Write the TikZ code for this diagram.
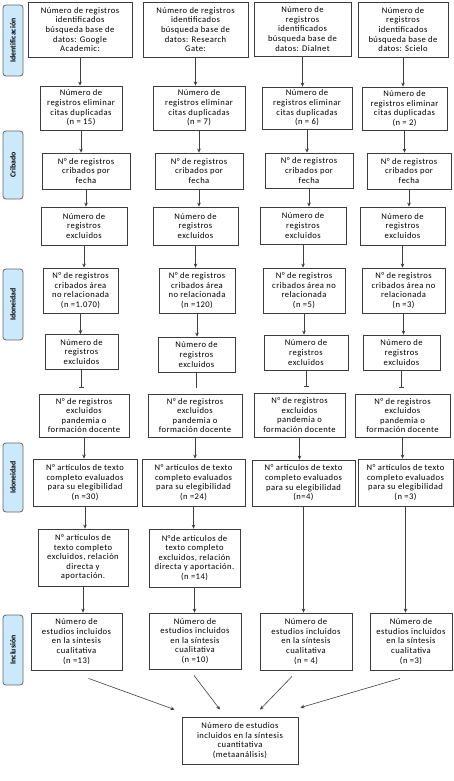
\documentclass[tikz,border=0pt]{standalone}
\usepackage{fontspec}
\setmainfont{Carlito}
\newfontfamily\cajafont{Carlito}[LetterSpace=5]
\newfontfamily\fasefont{Carlito}[Ligatures=NoCommon]
\usetikzlibrary{arrows.meta,calc}
\definecolor{FaseAzul}{HTML}{CBE9FB}
\definecolor{Borde}{HTML}{3C3C3C}

\begin{document}
\begin{tikzpicture}[x=1pt,y=-1pt,
  font=\cajafont\fontsize{8.6}{9.6}\selectfont, >={Stealth[length=4pt,width=3.6pt]},
  caja/.style 2 args={draw=Borde,line width=0.8pt,align=center,inner sep=1pt,
              minimum width=#1pt,minimum height=#2pt},
  fase/.style={draw=black!60,fill=FaseAzul,rounded corners=3pt,line width=0.8pt,rotate=90,
               minimum height=20pt,minimum width=#1pt,inner sep=0pt,
               font=\fasefont\fontsize{7.8}{8}\selectfont\bfseries},
  flecha/.style={->,line width=0.6pt,black!75},
  corte/.style={-{Bar[width=5pt]},line width=0.6pt,black!75,shorten >=6pt},
]
\fill[white] (0,0) rectangle (453,781);
\useasboundingbox (0,0) rectangle (453,781);

\node[fase=71] (f1) at (13,40.5)  {Identificación};
\node[fase=68] (f2) at (13,165)   {Cribado};
\node[fase=71] (f3) at (13,304.5) {Idoneidad};
\node[fase=69] (f4) at (13,477.5) {Idoneidad};
\node[fase=70] (f5) at (13,650)   {Inclusión};

\node[caja={104}{55}] (id1) at (80,29.5)    {Número de registros\\identificados\\búsqueda base de\\datos: Google\\Academic:};
\node[caja={105}{55}] (id2) at (195.5,29.5) {Número de registros\\identificados\\búsqueda base de\\datos: Research\\Gate:};
\node[caja={97}{54}]  (id3) at (302.5,29)   {Número de\\registros\\identificados\\búsqueda base de\\datos: Dialnet};
\node[caja={90}{55}]  (id4) at (403,29.5)   {Número de\\registros\\identificados\\búsqueda base de\\datos: Scielo};

\node[caja={82}{44}] (du1) at (81,108)    {Número de\\registros eliminar\\citas duplicadas\\(n = 15)};
\node[caja={92}{44}] (du2) at (199,108)   {Número de\\registros eliminar\\citas duplicadas\\(n = 7)};
\node[caja={90}{42}] (du3) at (307,108)   {Número de\\registros eliminar\\citas duplicadas\\(n = 6)};
\node[caja={85}{43}] (du4) at (404.5,108.5) {Número de\\registros eliminar\\citas duplicadas\\(n = 2)};

\node[caja={88}{36}] (cf1) at (86,171)    {N° de registros\\cribados por\\fecha};
\node[caja={88}{36}] (cf2) at (199,171)   {N° de registros\\cribados por\\fecha};
\node[caja={88}{35}] (cf3) at (309,170.5) {N° de registros\\cribados por\\fecha};
\node[caja={84}{36}] (cf4) at (409,171)   {N° de registros\\cribados por\\fecha};

\node[caja={86}{38}] (ex1) at (84,226)    {Número de\\registros\\excluidos};
\node[caja={85}{38}] (ex2) at (195.5,226) {Número de\\registros\\excluidos};
\node[caja={86}{37}] (ex3) at (303,225.5) {Número de\\registros\\excluidos};
\node[caja={85}{38}] (ex4) at (402.5,226) {Número de\\registros\\excluidos};

\node[caja={75}{45}] (ar1) at (80.5,290.5) {N° de registros\\cribados área\\no relacionada\\(n =1.070)};
\node[caja={76}{45}] (ar2) at (197,290.5)  {N° de registros\\cribados área\\no relacionada\\(n =120)};
\node[caja={82}{45}] (ar3) at (304,290.5)  {N° de registros\\cribados área no\\relacionada\\(n =5)};
\node[caja={83}{45}] (ar4) at (403.5,290.5) {N° de registros\\cribados área no\\relacionada\\(n =3)};

\node[caja={73}{35}] (ne1) at (81.5,352)  {Número de\\registros\\excluidos};
\node[caja={77}{35}] (ne2) at (196.5,354.5) {Número de\\registros\\excluidos};
\node[caja={84}{35}] (ne3) at (306,352.5) {Número de\\registros\\excluidos};
\node[caja={77}{35}] (ne4) at (401.5,352.5) {Número de\\registros\\excluidos};

\node[caja={90}{43}] (pd1) at (84,415.5)    {N° de registros\\excluidos\\pandemia o\\formación docente};
\node[caja={94}{43}] (pd2) at (195,415.5)   {N° de registros\\excluidos\\pandemia o\\formación docente};
\node[caja={91}{44}] (pd3) at (299.5,415)   {N° de registros\\excluidos\\pandemia o\\formación docente};
\node[caja={95}{43}] (pd4) at (402.5,415.5) {N° de registros\\excluidos\\pandemia o\\formación docente};

\node[caja={104}{47}] (ev1) at (85,482.5)    {N° artículos de texto\\completo evaluados\\para su elegibilidad\\(n =30)};
\node[caja={103}{47}] (ev2) at (193.5,482.5) {N° artículos de texto\\completo evaluados\\para su elegibilidad\\(n =24)};
\node[caja={103}{46}] (ev3) at (303.5,483)   {N° artículos de texto\\completo evaluados\\para su elegibilidad\\(n=4)};
\node[caja={95}{47}]  (ev4) at (405.5,482.5) {N° artículos de texto\\completo evaluados\\para su elegibilidad\\(n =3)};

\node[caja={90}{57}] (tc1) at (83,557.5)  {N° artículos de\\texto completo\\excluidos, relación\\directa y\\aportación.};
\node[caja={91}{58}] (tc2) at (194.5,558) {N°de artículos de\\texto completo\\excluidos, relación\\directa y aportación.\\(n =14)};

\node[caja={91}{57}] (in1) at (76.5,641.5) {Número de\\estudios incluidos\\en la síntesis\\cualitativa\\(n =13)};
\node[caja={92}{56}] (in2) at (195,641)    {Número de\\estudios incluidos\\en la síntesis\\cualitativa\\(n =10)};
\node[caja={92}{57}] (in3) at (306,641.5)  {Número de\\estudios incluidos\\en la síntesis\\cualitativa\\(n = 4)};
\node[caja={82}{57}] (in4) at (411,641.5)  {Número de\\estudios incluidos\\en la síntesis\\cualitativa\\(n =3)};

\node[caja={116}{47}] (meta) at (240,740.5) {Número de estudios\\incluidos en la síntesis\\cuantitativa\\(metaanálisis)};

\foreach \a/\b in {id1/du1,id2/du2,id3/du3,id4/du4,du1/cf1,du2/cf2,du3/cf3,du4/cf4,
                   cf1/ex1,cf2/ex2,cf3/ex3,cf4/ex4,ex1/ar1,ex2/ar2,ex3/ar3,ex4/ar4,
                   ar1/ne1,ar2/ne2,ar3/ne3,ar4/ne4,pd1/ev1,pd2/ev2,pd3/ev3,pd4/ev4,
                   ev1/tc1,ev2/tc2,tc1/in1,tc2/in2,ev3/in3,ev4/in4}
  \draw[flecha] (\a.south) -- (\a.south |- \b.north);

\foreach \a/\b in {ne1/pd1,ne3/pd3,ne4/pd4}
  \draw[corte] (\a.south) -- (\a.south |- \b.north);
\draw[line width=0.6pt,black!75,shorten >=6pt] (ne2.south) -- (ne2.south |- pd2.north);

\draw[flecha] ($(in1.south)+(12,8)$)  -- ($(meta.north west)+(-7,-7)$);
\draw[flecha] ($(in2.south)+(-1,6)$)  -- ($(meta.north)+(-20,-7)$);
\draw[flecha] ($(in3.south)+(-14,6)$) -- ($(meta.north)+(20,-7)$);
\draw[flecha] ($(in4.south)+(-11,8)$) -- ($(meta.north east)+(2,-9)$);
\end{tikzpicture}
\end{document}
